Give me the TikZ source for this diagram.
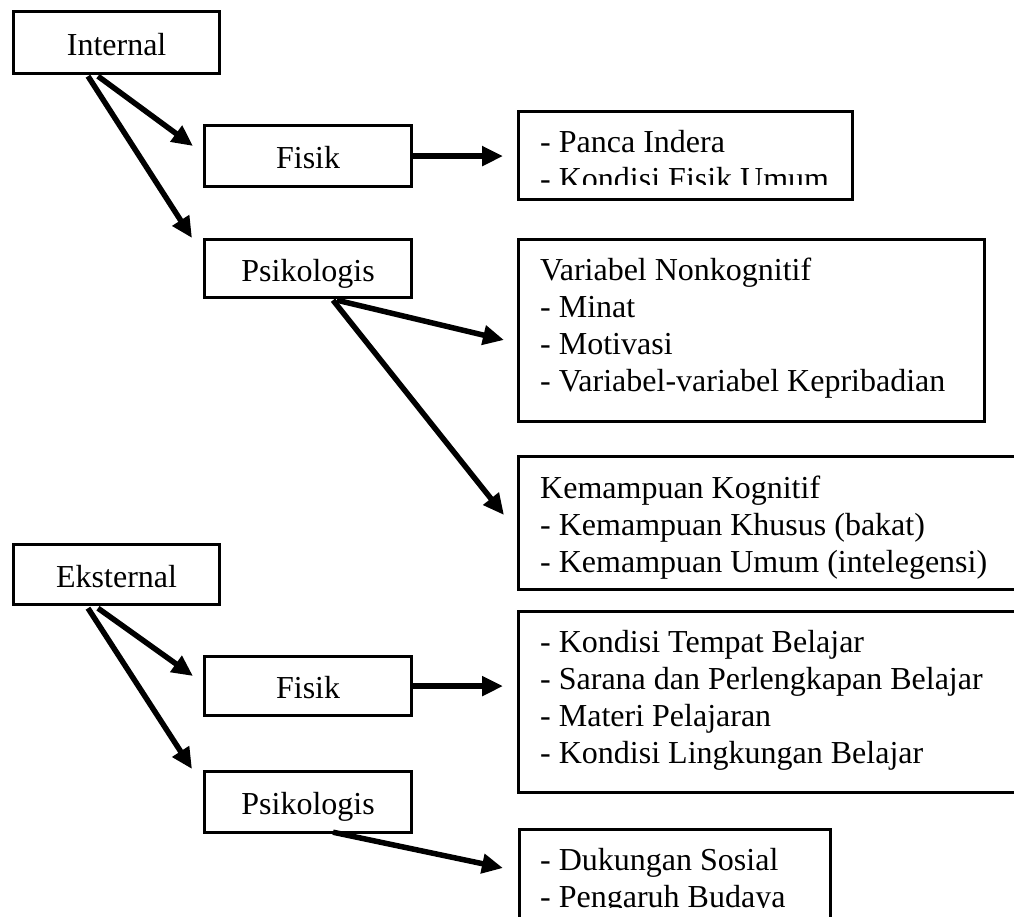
\documentclass[tikz,border=0pt]{standalone}
\usepackage{fontspec}
\setmainfont{Liberation Serif}
\usetikzlibrary{arrows.meta,calc}
\begin{document}
\begin{tikzpicture}[x=1pt,y=-1pt,
  box/.style={draw,line width=3.2pt,inner sep=0pt,anchor=north west},
  tbox/.style={box,font=\fontsize{32}{37}\selectfont,text height=25pt,text depth=0pt},
  lbl/.style={font=\fontsize{32}{37}\selectfont,inner sep=0pt,anchor=base west},
  conn/.style={line width=5.5pt,-{Triangle[length=21pt,width=19pt]}},
]
\useasboundingbox (0,0) rectangle (1014,917);
% left column
\node[tbox,minimum width=206pt,minimum height=62pt] (int) at (12,10) {Internal};
\node[tbox,minimum width=207pt,minimum height=61pt] (fis1) at (203,124) {Fisik};
\node[tbox,minimum width=207pt,minimum height=58pt] (psi1) at (203,238) {Psikologis};
\node[tbox,minimum width=206pt,minimum height=60pt] (eks) at (12,543) {Eksternal};
\node[tbox,minimum width=207pt,minimum height=59pt] (fis2) at (203,655) {Fisik};
\node[tbox,minimum width=207pt,minimum height=61pt] (psi2) at (203,770) {Psikologis};
% right boxes
\node[box,minimum width=334pt,minimum height=88pt] (pan) at (517,110) {};
\node[box,minimum width=466pt,minimum height=182pt] (var) at (517,238) {};
\node[box,minimum width=520pt,minimum height=133pt] (kem) at (517,455) {};
\node[box,minimum width=520pt,minimum height=181pt] (kon) at (517,610) {};
\node[box,minimum width=311pt,minimum height=120pt] (duk) at (518,828) {};
% texts
\begin{scope}
\clip (517,110) rectangle (851,185);
\node[lbl] (pan1) at (540,153) {- Panca Indera};
\node[lbl] (pan2) at (540,190) {- Kondisi Fisik Umum};
\end{scope}
\node[lbl] (var1) at (540,280) {Variabel Nonkognitif};
\node[lbl] (var2) at (540,317) {- Minat};
\node[lbl] (var3) at (540,354) {- Motivasi};
\node[lbl] (var4) at (540,391) {- Variabel-variabel Kepribadian};
\node[lbl] (kem1) at (540,498) {Kemampuan Kognitif};
\node[lbl] (kem2) at (540,535) {- Kemampuan Khusus (bakat)};
\node[lbl] (kem3) at (540,572) {- Kemampuan Umum (intelegensi)};
\node[lbl] (kon1) at (540,652) {- Kondisi Tempat Belajar};
\node[lbl] (kon2) at (540,689) {- Sarana dan Perlengkapan Belajar};
\node[lbl] (kon3) at (540,726) {- Materi Pelajaran};
\node[lbl] (kon4) at (540,763) {- Kondisi Lingkungan Belajar};
\begin{scope}
\clip (518,828) rectangle (829,907);
\node[lbl] (duk1) at (540,870) {- Dukungan Sosial};
\node[lbl] (duk2) at (540,907) {- Pengaruh Budaya};
\end{scope}
% connectors
\draw[conn] ($(int.south west)+(86,1)$) -- ($(fis1.north west)+(-10,22)$);
\draw[conn] ($(int.south west)+(76,1)$) -- ($(psi1.north west)+(-11,0)$);
\draw[conn,shorten >=14pt] (fis1.east) -- (fis1.east -| pan.west);
\draw[conn] ($(psi1.south west)+(134,1)$) -- ($(var.north west)+(-13,102)$);
\draw[conn] ($(psi1.south west)+(130,1)$) -- ($(kem.north west)+(-13,60)$);
\draw[conn] ($(eks.south west)+(86,2)$) -- ($(fis2.north west)+(-10,21)$);
\draw[conn] ($(eks.south west)+(76,2)$) -- ($(psi2.north west)+(-11,-1)$);
\draw[conn,shorten >=14pt] (fis2.east) -- (fis2.east -| kon.west);
\draw[conn] ($(psi2.south west)+(130,-2)$) -- ($(duk.north west)+(-15,40)$);
\end{tikzpicture}
\end{document}
